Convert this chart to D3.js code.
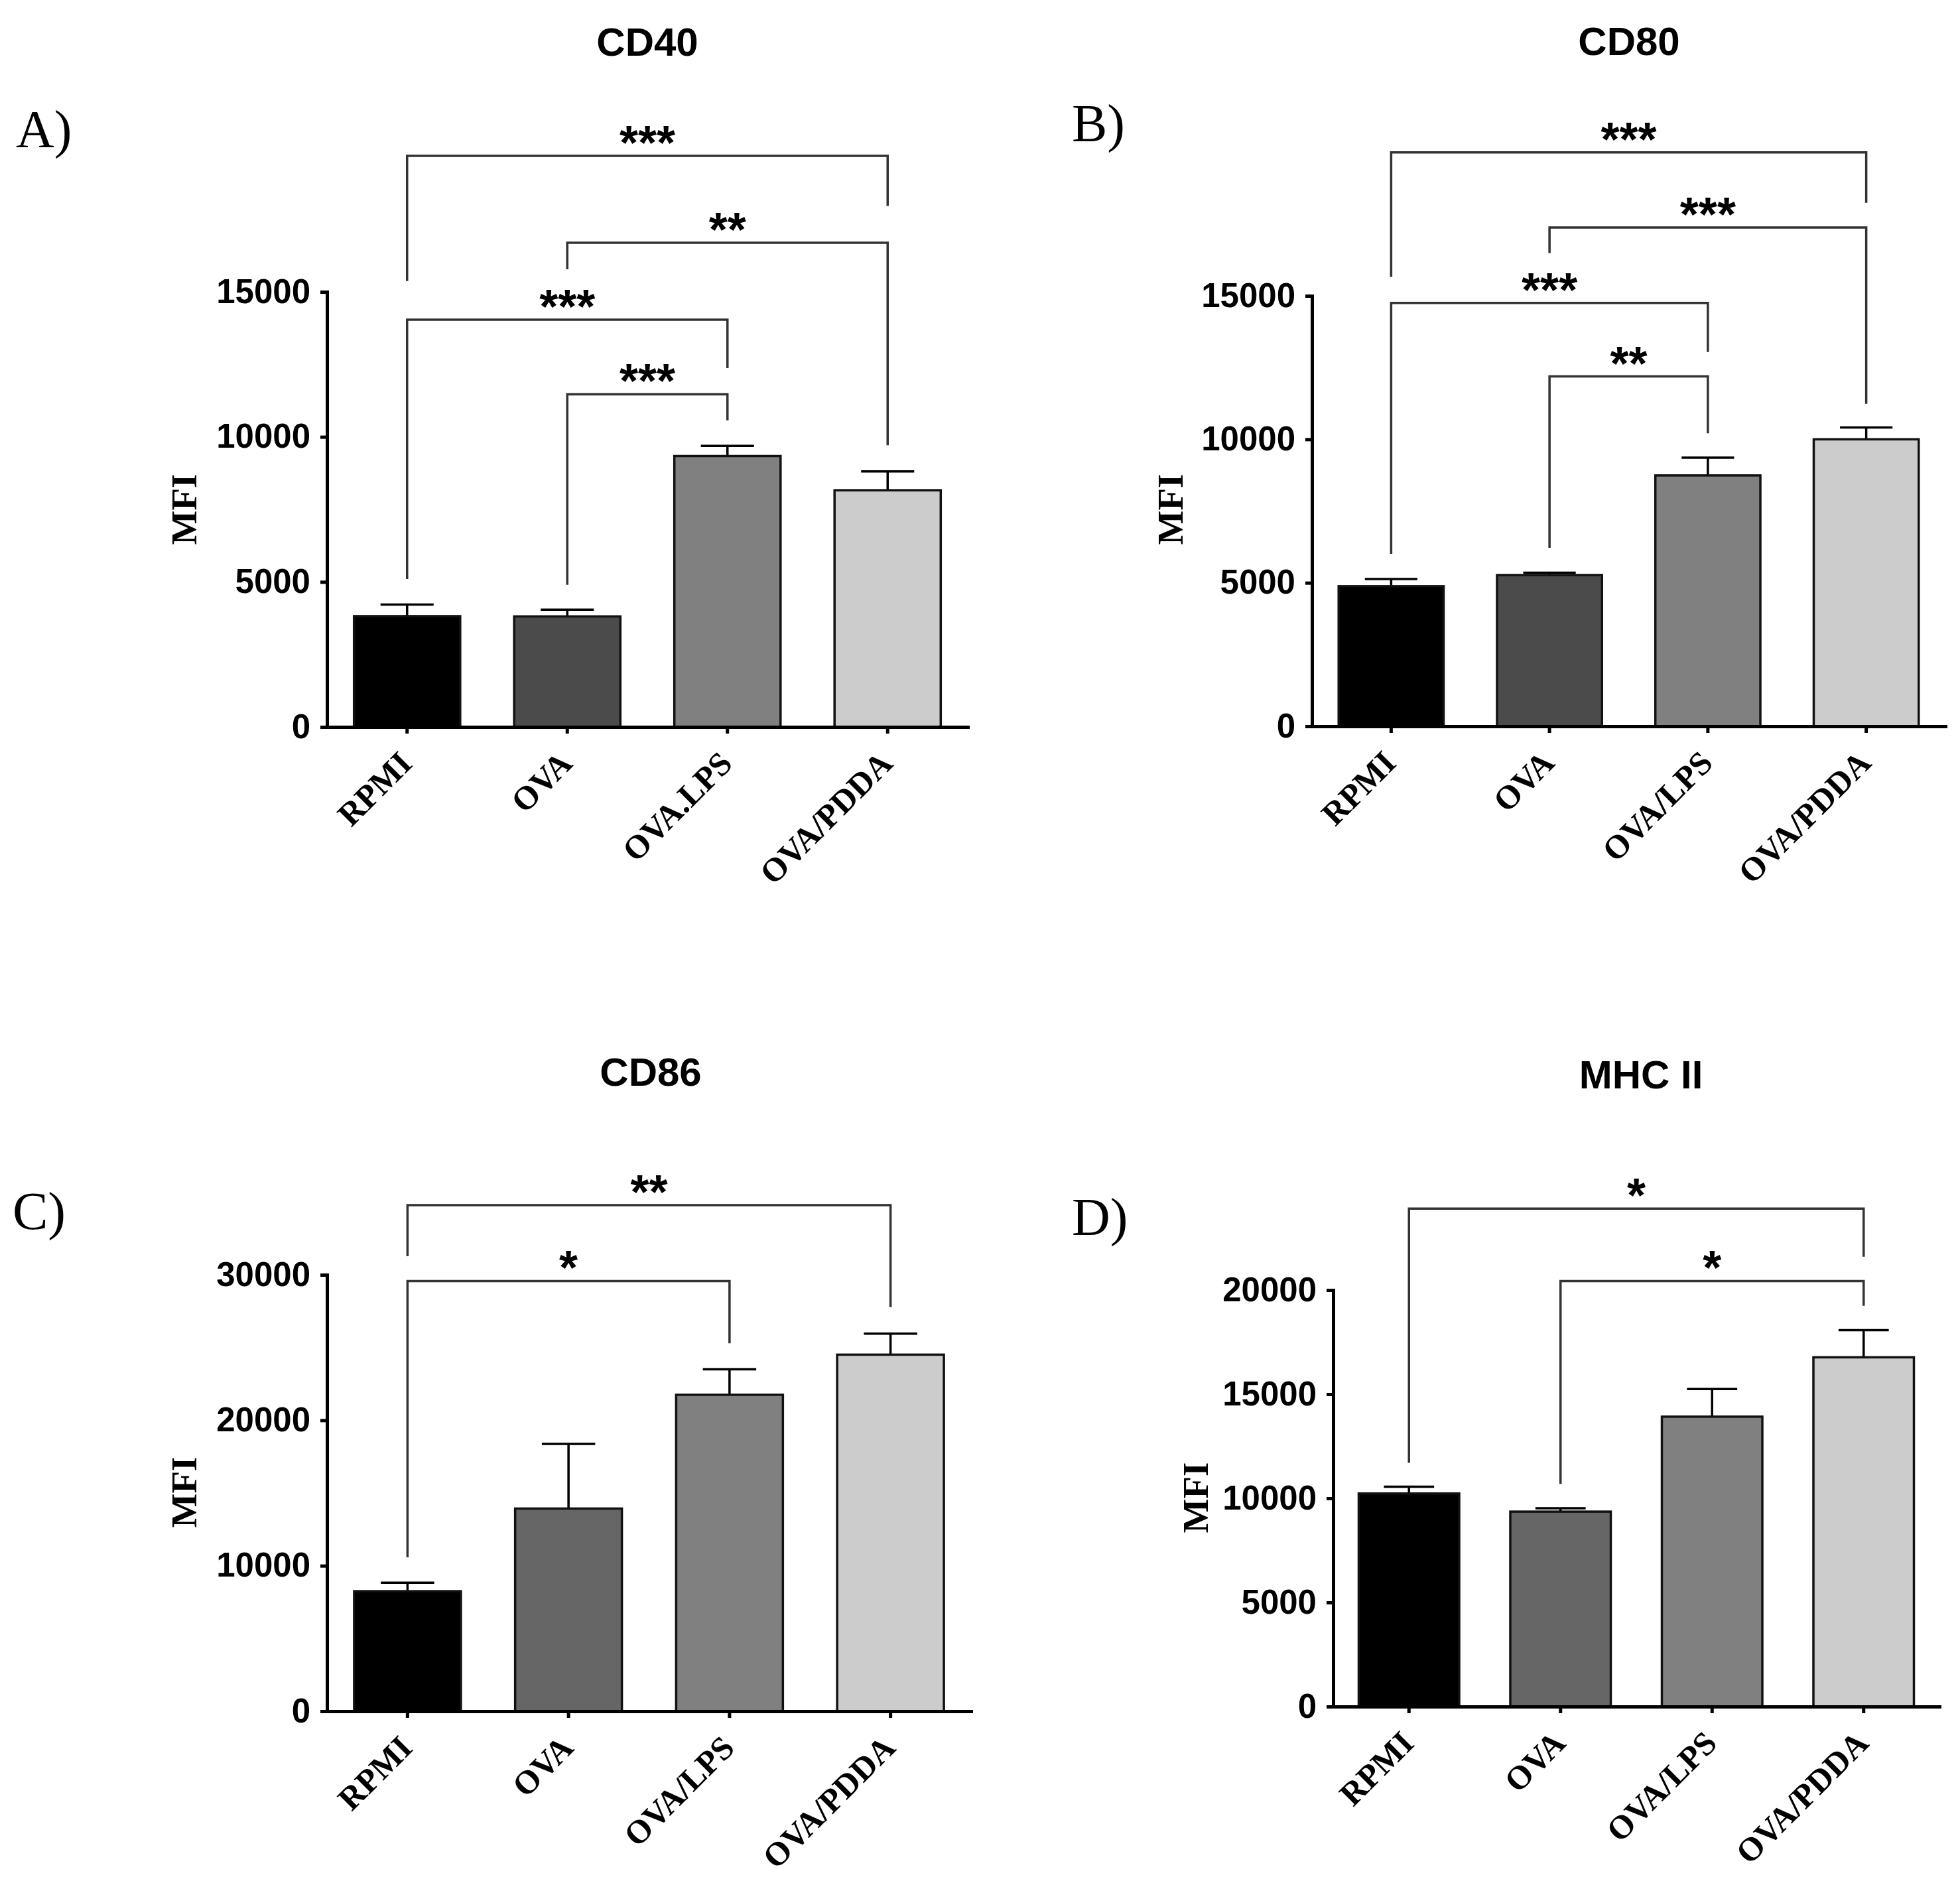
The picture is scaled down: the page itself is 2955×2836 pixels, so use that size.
<!DOCTYPE html>
<html>
<head>
<meta charset="utf-8">
<script src="https://d3js.org/d3.v7.min.js"></script>
<style>
  body { margin:0; background:#fff; }
  .sans { font-family:"Liberation Sans", Arial, sans-serif; font-weight:bold; }
  .serif { font-family:"Liberation Serif", "Times New Roman", serif; }
</style>
</head>
<body>
<svg id="plot"></svg>
<script>

// groups on the x axis
var groups  = ["RPMI", "OVA", "OVA/LPS", "OVA/PDDA"];
var groupsA = ["RPMI", "OVA", "OVA.LPS", "OVA/PDDA"];   // panel A spells it with a dot

// means and SEM
var cd40Mean = [3820, 3810, 9340, 8160];
var cd40Sem  = [400, 230, 350, 650];
var cd80Mean = [4880, 5270, 8740, 10000];
var cd80Sem  = [250, 80, 620, 410];
var cd86Mean = [8250, 13930, 21750, 24510];
var cd86Sem  = [580, 4440, 1750, 1440];
var mhcMean  = [10230, 9360, 13920, 16770];
var mhcSem   = [330, 160, 1330, 1300];

// tick values
var cd40Ticks = [0, 5000, 10000, 15000];
var cd80Ticks = [0, 5000, 10000, 15000];
var cd86Ticks = [0, 10000, 20000, 30000];
var mhcTicks  = [0, 5000, 10000, 15000, 20000];

// significance brackets: [from, to, level, left leg end, right leg end, stars]
var cd40Sig = [
  [0, 3, 19690, 15370, 17960, "***"],
  [1, 3, 16690, 15780, 9710, "**"],
  [0, 2, 14040, 5100, 12370, "***"],
  [1, 2, 11470, 4900, 10570, "***"]
];
var cd80Sig = [
  [0, 3, 20000, 15660, 18240, "***"],
  [1, 3, 17380, 16490, 11240, "***"],
  [0, 2, 14750, 6010, 13040, "***"],
  [1, 2, 12190, 6220, 10210, "**"]
];
var cd86Sig = [
  [0, 3, 34790, 31280, 27780, "**"],
  [0, 2, 29570, 10580, 25290, "*"]
];
var mhcSig = [
  [0, 3, 23910, 11700, 21600, "*"],
  [1, 3, 20430, 10690, 19240, "*"]
];

var fillsTop    = ["#000000", "#4b4b4b", "#808080", "#cccccc"];
var fillsBottom = ["#000000", "#666666", "#808080", "#cccccc"];

var screen = {width:2955, height:2836};

var svg = d3.select("#plot")
    .attr("width", screen.width)
    .attr("height", screen.height);

svg.append("rect")
    .attr("width", screen.width)
    .attr("height", screen.height)
    .attr("fill", "#fff");

var panels = [
  {letter:"A)", title:"CD40", labels:groupsA, mean:cd40Mean, sem:cd40Sem, ticks:cd40Ticks, sig:cd40Sig, fills:fillsTop,
   left:493, right:1459, base:1096, top:440, titleX:976, titleY:84, letterX:24, letterY:222, mfiX:277, mfiY:768},
  {letter:"B)", title:"CD80", labels:groups, mean:cd80Mean, sem:cd80Sem, ticks:cd80Ticks, sig:cd80Sig, fills:fillsTop,
   left:1978, right:2933, base:1095, top:446, titleX:2456, titleY:83, letterX:1616, letterY:213, mfiX:1764, mfiY:768},
  {letter:"C)", title:"CD86", labels:groups, mean:cd86Mean, sem:cd86Sem, ticks:cd86Ticks, sig:cd86Sig, fills:fillsBottom,
   left:493, right:1464, base:2580, top:1922, titleX:981, titleY:1637, letterX:19, letterY:1853, mfiX:277, mfiY:2250},
  {letter:"D)", title:"MHC II", labels:groups, mean:mhcMean, sem:mhcSem, ticks:mhcTicks, sig:mhcSig, fills:fillsBottom,
   left:2010, right:2924, base:2573, top:1945, titleX:2474, titleY:1641, letterX:1616, letterY:1862, mfiX:1802, mfiY:2258}
];

var drawPanel = function(p)
{
    var g = svg.append("g").classed("panel", true);

    var xScale = d3.scaleBand()
        .domain(p.labels)
        .range([p.left, p.right])
        .paddingInner(0.337)
        .paddingOuter(0.1685);

    var yScale = d3.scaleLinear()
        .domain([0, d3.max(p.ticks)])
        .range([p.base, p.top]);

    var bw = xScale.bandwidth();
    var cx = function(i) { return xScale(p.labels[i]) + bw / 2; };

    // brackets
    var brackets = g.append("g").selectAll("g")
        .data(p.sig)
        .enter()
        .append("g");

    brackets.append("path")
        .attr("fill", "none")
        .attr("stroke", "#333")
        .attr("stroke-width", 3.5)
        .attr("d", function(s) {
            return "M" + cx(s[0]) + "," + yScale(s[3]) +
                   "V" + yScale(s[2]) +
                   "H" + cx(s[1]) +
                   "V" + yScale(s[4]);
        });

    brackets.append("text")
        .classed("sans", true)
        .attr("font-size", 72)
        .attr("text-anchor", "middle")
        .attr("x", function(s) { return (cx(s[0]) + cx(s[1])) / 2; })
        .attr("y", function(s) { return yScale(s[2]) + 5; })
        .text(function(s) { return s[5]; });

    // error bars (upper only)
    var errs = g.append("g").selectAll("g")
        .data(p.mean)
        .enter()
        .append("g")
        .attr("stroke", "#000")
        .attr("stroke-width", 3.5);

    errs.append("line")
        .attr("x1", function(d, i) { return cx(i); })
        .attr("x2", function(d, i) { return cx(i); })
        .attr("y1", function(d) { return yScale(d); })
        .attr("y2", function(d, i) { return yScale(d + p.sem[i]); });

    errs.append("line")
        .attr("x1", function(d, i) { return cx(i) - bw / 4; })
        .attr("x2", function(d, i) { return cx(i) + bw / 4; })
        .attr("y1", function(d, i) { return yScale(d + p.sem[i]); })
        .attr("y2", function(d, i) { return yScale(d + p.sem[i]); });

    // bars
    g.append("g").selectAll("rect")
        .data(p.mean)
        .enter()
        .append("rect")
        .attr("x", function(d, i) { return xScale(p.labels[i]); })
        .attr("y", function(d) { return yScale(d); })
        .attr("width", bw)
        .attr("height", function(d) { return p.base - yScale(d); })
        .attr("fill", function(d, i) { return p.fills[i]; })
        .attr("stroke", "#111")
        .attr("stroke-width", 3.5);

    // y axis
    var yAxis = d3.axisLeft(yScale)
        .tickValues(p.ticks)
        .tickSize(10)
        .tickSizeOuter(0)
        .tickPadding(15)
        .tickFormat(d3.format("d"));

    var ya = g.append("g")
        .attr("transform", "translate(" + p.left + ",0)")
        .call(yAxis);

    // x axis
    var xAxis = d3.axisBottom(xScale)
        .tickSize(10)
        .tickSizeOuter(0);

    var xa = g.append("g")
        .attr("transform", "translate(0," + p.base + ")")
        .call(xAxis);

    [ya, xa].forEach(function(a) {
        a.select(".domain").attr("stroke", "#000").attr("stroke-width", 5).attr("stroke-linecap", "square");
        a.selectAll(".tick line").attr("stroke", "#000").attr("stroke-width", 5);
    });

    ya.selectAll(".tick text")
        .attr("class", "sans")
        .attr("font-size", 51)
        .attr("fill", "#000");

    xa.selectAll(".tick text")
        .attr("class", "serif")
        .attr("font-size", 50)
        .attr("font-weight", "bold")
        .attr("fill", "#000")
        .attr("text-anchor", "end")
        .attr("x", 0)
        .attr("y", 0)
        .attr("dy", 0)
        .attr("transform", "translate(10,58) rotate(-45)");

    // labels
    g.append("text")
        .classed("sans", true)
        .attr("font-size", 60)
        .attr("text-anchor", "middle")
        .attr("x", p.titleX)
        .attr("y", p.titleY)
        .text(p.title);

    g.append("text")
        .classed("serif", true)
        .attr("font-size", 80)
        .attr("x", p.letterX)
        .attr("y", p.letterY)
        .text(p.letter);

    g.append("text")
        .classed("serif", true)
        .attr("font-size", 55)
        .attr("font-weight", "bold")
        .attr("text-anchor", "middle")
        .attr("dy", "0.35em")
        .attr("transform", "translate(" + p.mfiX + "," + p.mfiY + ") rotate(-90)")
        .text("MFI");
}

panels.forEach(drawPanel);

</script>
</body>
</html>
